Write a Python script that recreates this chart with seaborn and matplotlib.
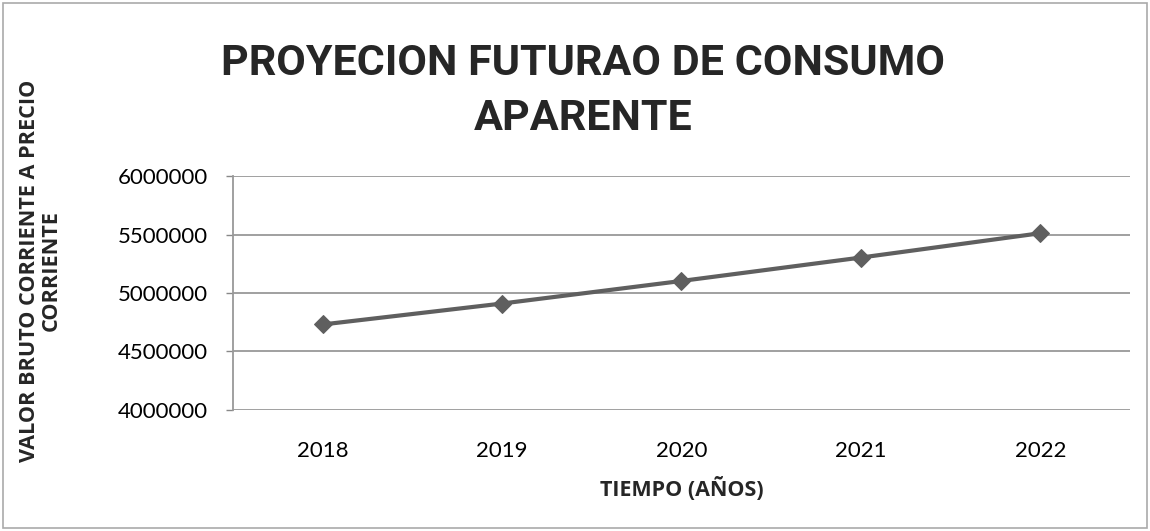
import matplotlib
matplotlib.use('Agg')
import matplotlib.pyplot as plt
import seaborn as sns
import pandas as pd
from matplotlib.patches import Rectangle

# datos
anios = ['2018', '2019', '2020', '2021', '2022']
consumo = [4731000, 4910000, 5103000, 5303000, 5511000]
y_ticks = [4000000, 4500000, 5000000, 5500000, 6000000]

df = pd.DataFrame({'Anio': anios, 'Consumo': consumo})

sns.set_theme(style="white")
plt.rcParams['font.family'] = ['Lato', 'DejaVu Sans']
negrita = ['Open Sans', 'DejaVu Sans']
titulo_font = ['Roboto', 'Open Sans', 'DejaVu Sans']

fig = plt.figure(figsize=(11.5, 5.31), dpi=100)
ax = fig.add_axes([0.2026, 0.2279, 0.78, 0.4406])

sns.lineplot(data=df, x='Anio', y='Consumo', ax=ax, color='#5f5f5f', linewidth=3,
             marker='D', markersize=9, markeredgecolor='#5f5f5f', sort=False)

ax.set_ylim(4000000, 6000000)
ax.set_xlim(-0.5, 4.5)
ax.set_yticks(y_ticks)
ax.set_yticklabels([str(v) for v in y_ticks], fontsize=16, color='black')
ax.tick_params(axis='x', labelsize=16, colors='black', length=0, pad=22)
ax.tick_params(axis='y', length=5, width=1, color='#888888', left=True, pad=13)
ax.grid(axis='y', color='#999999', linewidth=1.3)
ax.set_axisbelow(True)
for s in ['top', 'right', 'bottom']:
    ax.spines[s].set_visible(False)
ax.spines['left'].set_color('#999999')
ax.spines['left'].set_linewidth(1.3)

ax.set_xlabel('TIEMPO (AÑOS)', fontsize=15.5, fontweight='bold', family=negrita, labelpad=12)
ax.set_ylabel('')
fig.text(0.035, 0.49, 'VALOR BRUTO CORRIENTE A PRECIO\nCORRIENTE', rotation=90,
         ha='center', va='center', fontsize=15.6, fontweight='bold', family=negrita,
         linespacing=1.0)

fig.text(0.507, 0.829, 'PROYECION FUTURAO DE CONSUMO\nAPARENTE', ha='center', va='center',
         fontsize=31, fontweight='bold', family=titulo_font, linespacing=1.45)

# borde del grafico
fig.patches.append(Rectangle((0.003, 0.005), 0.994, 0.99, transform=fig.transFigure,
                             fill=False, edgecolor='#aaaaaa', linewidth=1.2))

plt.savefig('out.png', dpi=100)
